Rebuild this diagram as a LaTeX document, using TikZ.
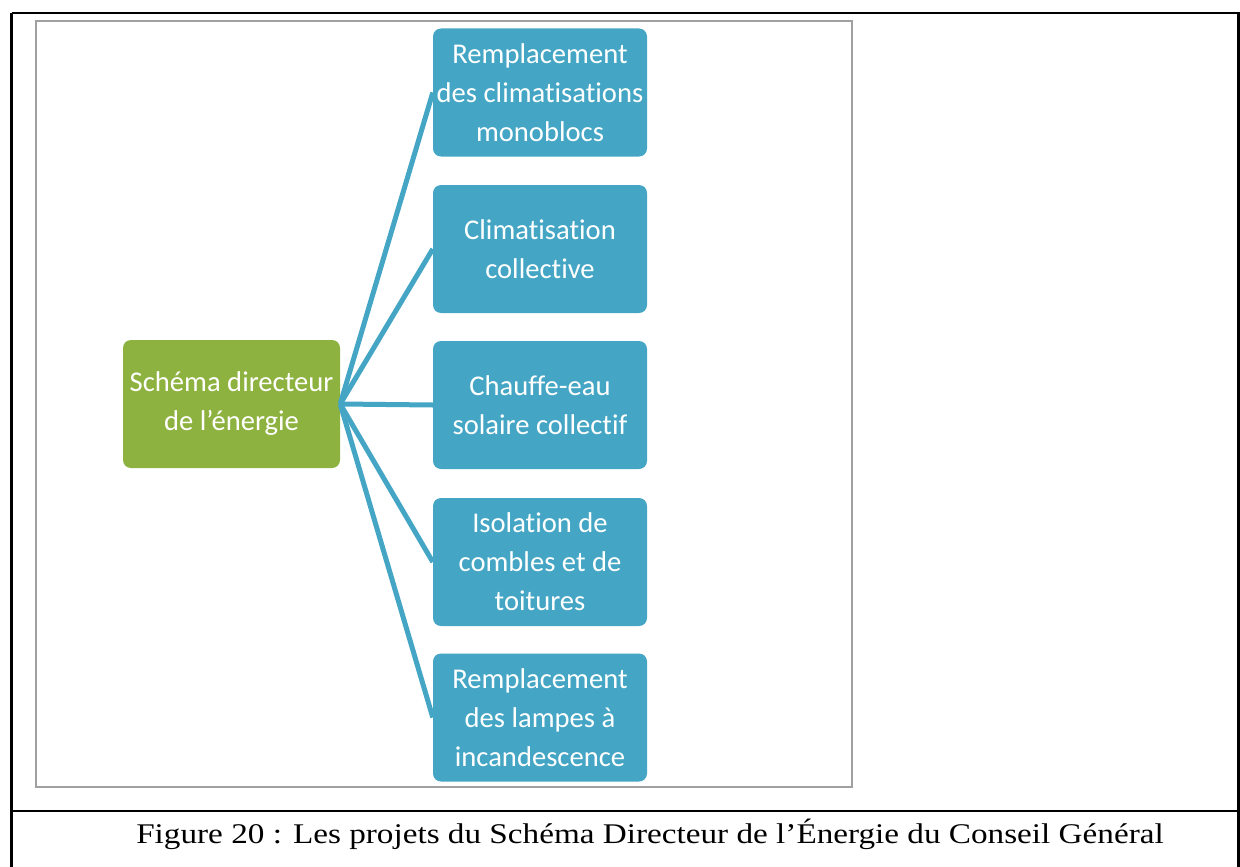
\documentclass[tikz,border=0pt]{standalone}
\usepackage{fontspec}
\setmainfont{Liberation Serif}
\newfontfamily\boxfont[Ligatures=NoCommon]{Carlito}
\definecolor{boxblue}{RGB}{68,166,196}
\definecolor{boxgreen}{RGB}{142,178,64}
\definecolor{framegray}{RGB}{160,160,160}
\tikzset{
  item/.style={draw=none, fill=boxblue, rounded corners=8pt, minimum width=214pt, minimum height=128pt,
    text=white, align=center, inner sep=0pt, font=\boxfont\fontsize{28.6}{39}\selectfont},
  rootbox/.style={item, fill=boxgreen, minimum width=217pt},
  link/.style={draw=boxblue, line width=5pt},
  frameline/.style={line width=2.6pt, black}
}
\begin{document}
\begin{tikzpicture}[x=1pt,y=-1pt]
\useasboundingbox (0,0) rectangle (1240,867);
\fill[white] (0,0) rectangle (1240,867);
% outer frame
\coordinate (tl) at (11.5,13);
\coordinate (tr) at (1240,13);
\coordinate (bl) at (11.5,867);
\coordinate (ml) at (11.5,811);
\coordinate (mr) at (1240,811);
\coordinate (rt) at (1238.5,13);
\coordinate (rb) at (1238.5,867);
\draw[frameline] (tl) -- (tr);
\draw[frameline] (tl) -- (bl);
\draw[frameline] (ml) -- (mr);
\draw[frameline] (rt) -- (rb);
% inner picture box
\draw[framegray, line width=1.2pt] (36,21) rectangle (852,787);
% nodes
\node[rootbox] (root) at (231.5,404) {Schéma directeur\\de l’énergie};
\node[item] (b1) at (540,92.5) {Remplacement\\des climatisations\\monoblocs};
\node[item] (b2) at (540,249) {Climatisation\\collective};
\node[item] (b3) at (540,405) {Chauffe-eau\\solaire collectif};
\node[item] (b4) at (540,562) {Isolation de\\combles et de\\toitures};
\node[item] (b5) at (540,717.5) {Remplacement\\des lampes à\\incandescence};
\foreach \b in {b1,b2,b3,b4,b5}
  \draw[link] (root.east) -- (\b.west);
% caption
\node[font=\fontsize{28.5}{32}\selectfont, anchor=base] (cap) at (650,843) {\scalebox{1.165}[1]{Figure 20 : Les projets du Schéma Directeur de l’Énergie du Conseil Général}};
\end{tikzpicture}
\end{document}
